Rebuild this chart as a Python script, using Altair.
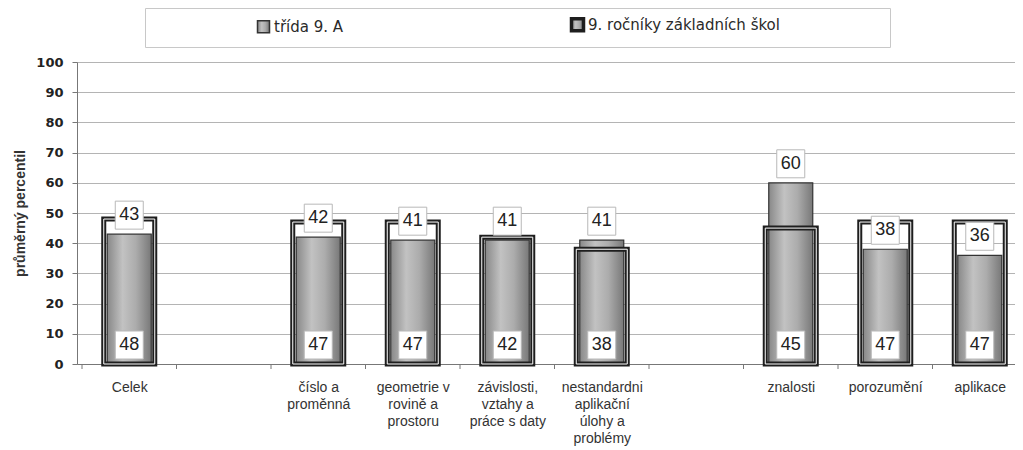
import altair as alt
import pandas as pd

# ---- data ----
categories = ["Celek", "", "číslo a|proměnná", "geometrie v|rovině a|prostoru",
              "závislosti,|vztahy a|práce s daty",
              "nestandardni|aplikační|úlohy a|problémy",
              "", "znalosti", "porozumění", "aplikace"]
trida_9a = [43, None, 42, 41, 41, 41, None, 60, 38, 36]
rocniky_zs = [48, None, 47, 47, 42, 38, None, 45, 47, 47]
series_names = ["třída 9. A", "9. ročníky základních škol"]
y_ticks = list(range(0, 101, 10))
y_title = "průměrný percentil"

rows = []
for i, (c, a, b) in enumerate(zip(categories, trida_9a, rocniky_zs)):
    if a is None:
        continue
    rows.append({"pos": i + 0.5, "kategorie": c, "trida": a, "rocniky": b, "base": 0})
df = pd.DataFrame(rows)
inner = df.assign(series=series_names[0], value=df["trida"])
outer = df.assign(series=series_names[1], value=df["rocniky"])
bounds = pd.DataFrame({"b": list(range(len(categories)))})

W, H = 938, 302
SANS = "Liberation Sans, Arial, sans-serif"
WIDE = "DejaVu Sans, Verdana, sans-serif"

arr = "[" + ",".join("'" + c + "'" for c in categories) + "]"
x_label_expr = "split(" + arr + "[floor(datum.value)], '|')"

x_scale = alt.Scale(domain=[0, 9.82], nice=False, zero=False)
y_scale = alt.Scale(domain=[0, 100], nice=False)

x_axis = alt.Axis(values=[i + 0.5 for i in range(len(categories))], ticks=False,
                  grid=False, labelExpr=x_label_expr, labelOverlap=False,
                  labelFlush=False, labelFont=SANS, labelFontSize=14,
                  labelLineHeight=17, labelPadding=16, labelColor="#333333",
                  domainColor="#777777", domainWidth=1.2, title=None)
y_axis = alt.Axis(values=y_ticks, grid=True, gridColor="#b4b4b4", gridWidth=1,
                  domainColor="#777777", tickColor="#777777", tickSize=5,
                  labelFont=WIDE, labelFontWeight="bold", labelFontSize=13,
                  labelColor="#222222", labelPadding=9, labelOverlap=False,
                  title=y_title, titleFont=SANS, titleFontSize=14,
                  titleFontWeight="bold", titleColor="#333333", titlePadding=8)


def X():
    return alt.X("pos:Q", scale=x_scale, axis=x_axis)


def Y(field):
    return alt.Y(field + ":Q", scale=y_scale, axis=y_axis)


# trailing spaces widen the legend frame on the right (zero-width char keeps them)
pad_right = "\u00a0" * 21 + "\u200b"
legend = alt.Legend(orient="none", legendX=68, legendY=-54, direction="horizontal",
                    title=None, strokeColor="#c8c8c8", fillColor="white", padding=9,
                    symbolType="square", symbolSize=144, symbolOffset=102,
                    symbolFillColor={"expr": "datum.value === '" + series_names[0] + "' ? '#b4b4b4' : '#ffffff'"},
                    symbolStrokeColor="#1e1e1e",
                    symbolStrokeWidth={"expr": "datum.value === '" + series_names[0] + "' ? 1.5 : 3.5"},
                    labelFont=WIDE, labelFontSize=15, labelColor="#2a2a2a",
                    labelOffset=3, labelLimit=700, columnPadding=24,
                    labelExpr="datum.label + '" + pad_right + "'")

stroke_enc = alt.Stroke("series:N",
                        scale=alt.Scale(domain=series_names, range=["#333333", "#1e1e1e"]),
                        legend=legend)

grad = alt.LinearGradient(gradient="linear", x1=0, x2=1, y1=0, y2=0,
                          stops=[alt.GradientStop(offset=0, color="#888888"),
                                 alt.GradientStop(offset=0.35, color="#c2c2c2"),
                                 alt.GradientStop(offset=0.65, color="#acacac"),
                                 alt.GradientStop(offset=1, color="#787878")])

inner_bars = alt.Chart(inner).mark_bar(size=44, fill=grad, strokeWidth=1.2).encode(
    x=X(), y=Y("value"), stroke=stroke_enc,
)
outer_bars = alt.Chart(outer).mark_bar(size=51, fill="transparent", strokeWidth=5).encode(
    x=X(), y=Y("value"), stroke=stroke_enc,
)
outer_inline = alt.Chart(outer).mark_bar(size=51, fill="transparent", stroke="white",
                                         strokeWidth=1).encode(x=X(), y=Y("value"))

ticks = alt.Chart(bounds).mark_rule(color="#777777", strokeWidth=1).encode(
    x=alt.X("b:Q", scale=x_scale, axis=x_axis), y=alt.value(H), y2=alt.value(H + 5))

box_kw = dict(size=784, fill="white", filled=True, stroke="#b8b8b8", strokeWidth=1,
              opacity=1, yOffset=-19)
txt_kw = dict(font=SANS, fontSize=18, color="#222222", baseline="middle",
              align="center", dy=-19)

top_boxes = alt.Chart(inner).mark_square(**box_kw).encode(x=X(), y=Y("value"))
top_text = alt.Chart(inner).mark_text(**txt_kw).encode(x=X(), y=Y("value"), text="value:Q")
bot_boxes = alt.Chart(outer).mark_square(**box_kw).encode(x=X(), y=Y("base"))
bot_text = alt.Chart(outer).mark_text(**txt_kw).encode(x=X(), y=Y("base"), text="value:Q")

chart = alt.layer(inner_bars, outer_bars, outer_inline, ticks,
                  top_boxes, top_text, bot_boxes, bot_text).properties(
    width=W, height=H,
    autosize=alt.AutoSizeParams(type="none"),
    padding={"left": 69, "top": 54, "right": 0, "bottom": 86},
).configure_view(stroke="transparent").configure(background="white")

chart.save("out.html", embed_options={"renderer": "svg", "actions": False})
